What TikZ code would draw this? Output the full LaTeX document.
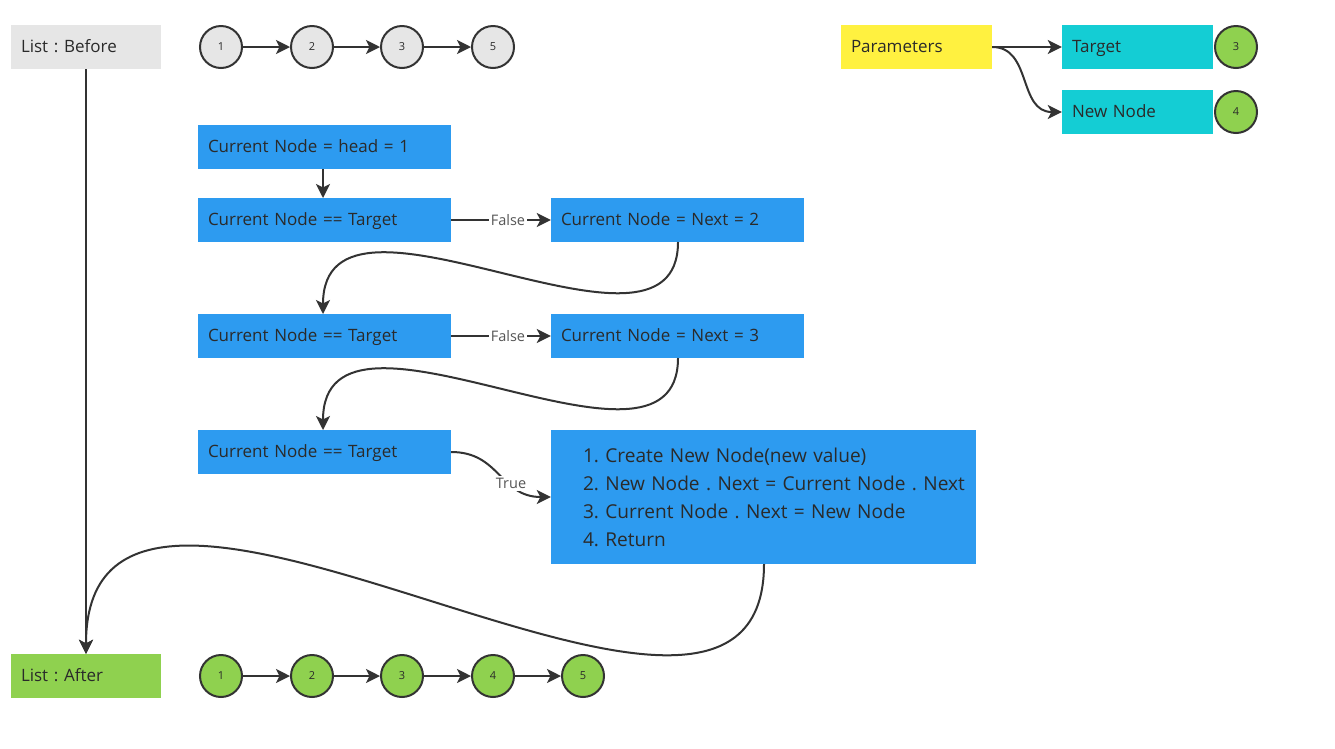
\documentclass[tikz,border=0pt]{standalone}
\usepackage{fontspec}
\setmainfont{Open Sans}
\usetikzlibrary{arrows.meta}
\frenchspacing
\definecolor{linec}{HTML}{333333}
\definecolor{txtc}{HTML}{2A2A2A}
\definecolor{greyc}{HTML}{E6E6E6}
\definecolor{yellowc}{HTML}{FFF140}
\definecolor{cyanc}{HTML}{14CDD4}
\definecolor{greenc}{HTML}{8FD14F}
\definecolor{bluec}{HTML}{2D9BF0}
\definecolor{lblc}{HTML}{555555}
\newlength{\steplead}
\setlength{\steplead}{32pt}
\tikzset{
  box/.style={rectangle, draw=none, minimum height=44pt, inner xsep=10pt, inner ysep=0pt,
    text height=13.5pt, text depth=2.5pt,
    text=txtc, align=left, font=\fontsize{17}{20}\selectfont},
  box150/.style={box, minimum width=150pt, text width=130pt},
  box253/.style={box, fill=bluec, minimum width=253pt, text width=233pt},
  ball/.style={circle, draw=linec, line width=2pt, minimum size=42pt, inner sep=0pt,
    text=txtc, font=\fontsize{11}{12}\selectfont},
  arr/.style={draw=linec, line width=2pt, -{Stealth[length=14pt,width=14pt,inset=3.5pt]}},
  lbl/.style={fill=white, inner sep=2pt, text=lblc, font=\fontsize{14.5}{16}\selectfont},
}
\begin{document}
\begin{tikzpicture}[x=1pt,y=-1pt]
\useasboundingbox (0,0) rectangle (1335,748);
\fill[white] (0,0) rectangle (1335,748);

% list before
\node[box150, fill=greyc] (lb) at (86,47) {List : Before};
\foreach \i/\x/\v in {1/221/1,2/312/2,3/402/3,4/493/5}
  \node[ball, fill=greyc] (p\i) at (\x,47) {\v};
\draw[arr] (p1) -- (p2);
\draw[arr] (p2) -- (p3);
\draw[arr] (p3) -- (p4);

% parameters
\node[box, fill=yellowc, minimum width=151pt, text width=131pt] (par) at (916.5,47) {Parameters};
\node[box, fill=cyanc, minimum width=151pt, text width=131pt] (tg) at (1137.5,47) {Target};
\node[box, fill=cyanc, minimum width=151pt, text width=131pt] (nn) at (1137.5,112) {New Node};
\node[ball, fill=greenc] (tgv) at (1236,47) {3};
\node[ball, fill=greenc] (nnv) at (1236,112) {4};
\draw[arr] (par.east) -- (tg.west);
\draw[arr] (par.east) .. controls (1032,47) and (1018,112) .. (nn.west);

% traversal steps
\node[box253] (s1) at (324.5,147) {Current Node = head = 1};
\node[box253] (c1) at (324.5,220) {Current Node == Target};
\node[box253] (n1) at (677.5,220) {Current Node = Next = 2};
\node[box253] (c2) at (324.5,336) {Current Node == Target};
\node[box253] (n2) at (677.5,336) {Current Node = Next = 3};
\node[box253] (c3) at (324.5,452) {Current Node == Target};
\node[rectangle, fill=bluec, minimum width=425pt, minimum height=134pt, inner xsep=0pt,
  text width=425pt, align=left, text=txtc, font=\fontsize{19.1}{28}\selectfont,
  execute at begin node={\leftskip=\steplead\relax}] (ins) at (763.5,497)
  {1. Create New Node(new value)\\2. New Node . Next = Current Node . Next\\3. Current Node . Next = New Node\\4. Return};

\coordinate (s1b) at (323,169);
\coordinate (c1t) at (323,198);
\draw[arr] (s1b) -- (c1t);
\draw[arr] (c1) -- node[lbl, pos=0.57] {False} (n1);
\draw[arr] (c2) -- node[lbl, pos=0.57] {False} (n2);

\coordinate (n1b) at (678,242);
\coordinate (c2t) at (323,314);
\draw[arr] (n1b) .. controls (678,390) and (323,155) .. (c2t);
\coordinate (n2b) at (678,358);
\coordinate (c3t) at (323,430);
\draw[arr] (n2b) .. controls (678,506) and (323,271) .. (c3t);

\draw[arr] (c3.east) .. controls (500,452) and (500,497) .. node[lbl, pos=0.64] {True} (ins.west);

% list after
\node[box150, fill=greenc] (la) at (86,676) {List : After};
\foreach \i/\x/\v in {1/221/1,2/312/2,3/402/3,4/493/4,5/583/5}
  \node[ball, fill=greenc] (q\i) at (\x,676) {\v};
\draw[arr] (q1) -- (q2);
\draw[arr] (q2) -- (q3);
\draw[arr] (q3) -- (q4);
\draw[arr] (q4) -- (q5);

\draw[arr] (lb) -- (la);
\coordinate (insb) at (764,564);
\draw[arr] (insb) .. controls (764,850) and (86,345) .. (la.north);
\end{tikzpicture}
\end{document}
